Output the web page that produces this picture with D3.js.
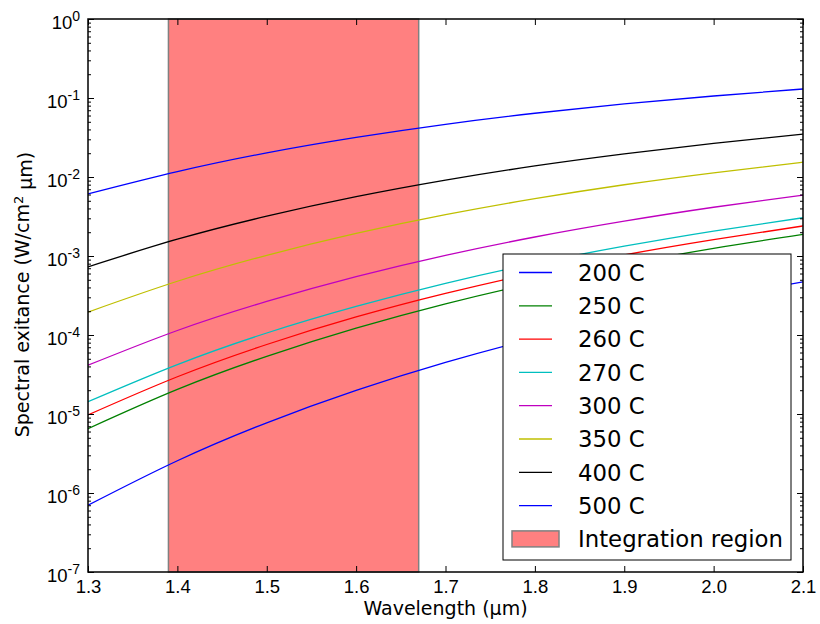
<!DOCTYPE html>
<html>
<head>
<meta charset="utf-8">
<script src="https://cdnjs.cloudflare.com/ajax/libs/d3/7.8.5/d3.min.js"></script>
<style>
body { margin: 0; background: #fff; }
svg { font-family: 'DejaVu Sans', sans-serif; }
.line { fill: none; stroke-width: 1.3; }
.axis path { display: none; }
.axis line { stroke: #000; stroke-width: 1; }
.axis text { font-size: 18.5px; fill: #000; }
</style>
</head>
<body>
<svg id="plotarea"></svg>
<script>
// wavelength samples (um)
const wavelengths = [1.3, 1.4, 1.5, 1.6, 1.7, 1.8, 1.9, 2.0, 2.1];

// spectral exitance (W/cm2 um)
const exit200 = [7.0e-7, 2.56e-6, 7.74e-6, 1.99e-5, 4.50e-5, 9.12e-5, 1.69e-4, 2.92e-4, 4.71e-4];
const exit250 = [6.53e-6, 2.05e-5, 5.37e-5, 1.22e-4, 2.48e-4, 4.58e-4, 7.82e-4, 1.25e-3, 1.88e-3];
const exit260 = [9.73e-6, 2.96e-5, 7.58e-5, 1.69e-4, 3.36e-4, 6.11e-4, 1.03e-3, 1.61e-3, 2.40e-3];
const exit270 = [1.43e-5, 4.22e-5, 1.06e-4, 2.30e-4, 4.51e-4, 8.05e-4, 1.33e-3, 2.07e-3, 3.05e-3];
const exit300 = [4.14e-5, 1.14e-4, 2.66e-4, 5.48e-4, 1.02e-3, 1.74e-3, 2.76e-3, 4.14e-3, 5.90e-3];
const exit350 = [1.95e-4, 4.79e-4, 1.02e-3, 1.93e-3, 3.33e-3, 5.32e-3, 7.98e-3, 1.13e-2, 1.54e-2];
const exit400 = [7.29e-4, 1.63e-3, 3.19e-3, 5.63e-3, 9.12e-3, 1.38e-2, 1.96e-2, 2.67e-2, 3.48e-2];
const exit500 = [6.11e-3, 1.17e-2, 2.02e-2, 3.17e-2, 4.65e-2, 6.41e-2, 8.42e-2, 0.106, 0.130];

const labels = ['200 C', '250 C', '260 C', '270 C', '300 C', '350 C', '400 C', '500 C'];
const colors = ['#0000ff', '#008000', '#ff0000', '#00bfbf', '#bf00bf', '#bfbf00', '#000000', '#0000ff'];
const series = [exit200, exit250, exit260, exit270, exit300, exit350, exit400, exit500];

const integration = [1.39, 1.67];
const xTicks = [1.3, 1.4, 1.5, 1.6, 1.7, 1.8, 1.9, 2.0, 2.1];
const yExponents = [-7, -6, -5, -4, -3, -2, -1, 0];

const margin = {
    top: 19,
    bottom: 52,
    left: 88,
    right: 17,
}

const dims = {
    width: 820 - margin.left - margin.right,
    height: 624 - margin.top - margin.bottom,
}

function plotExitance() {
    var svg = d3.select('#plotarea')
                .attr('width', 820)
                .attr('height', 624)
                .append('g')
                .attr('transform', `translate(${margin.left}, ${margin.top})`);

    var x = d3.scaleLinear().domain([1.3, 2.1]).range([0, dims.width]);
    var y = d3.scaleLog().domain([1e-7, 1]).range([dims.height, 0]);

    svg.append('clipPath')
       .attr('id', 'clip')
       .append('rect')
       .attr('width', dims.width)
       .attr('height', dims.height);

    // integration region
    svg.append('rect')
       .attr('x', x(integration[0]))
       .attr('y', 0)
       .attr('width', x(integration[1]) - x(integration[0]))
       .attr('height', dims.height)
       .style('fill', '#ff8080')
       .style('stroke', '#808080')
       .style('stroke-width', 1.5);

    var valueline = d3.line()
                      .curve(d3.curveNatural)
                      .x(function(d, i) { return x(wavelengths[i]); })
                      .y(function(d) { return y(d); });

    svg.append('g')
       .attr('clip-path', 'url(#clip)')
       .selectAll('path')
       .data(series)
       .enter().append('path')
       .attr('class', 'line')
       .style('stroke', (d, i) => colors[i])
       .attr('d', valueline);

    // log ticks
    var majors = yExponents.map(e => Math.pow(10, e));
    var minors = [];
    yExponents.slice(0, -1).forEach(function(e) {
        for (var m = 2; m < 10; m++) minors.push(m * Math.pow(10, e));
    });

    // bottom axis
    svg.append('g')
       .attr('class', 'axis x-axis')
       .attr('transform', 'translate(0,' + dims.height + ')')
       .call(d3.axisBottom(x).tickValues(xTicks).tickFormat(d3.format('.1f'))
             .tickSizeInner(-6).tickSizeOuter(0).tickPadding(8));

    svg.append('g')
       .attr('class', 'axis')
       .call(d3.axisTop(x).tickValues(xTicks).tickFormat('')
             .tickSizeInner(-6).tickSizeOuter(0));

    // left axis
    var yAxis = svg.append('g')
       .attr('class', 'axis y-axis')
       .call(d3.axisLeft(y).tickValues(majors).tickFormat('')
             .tickSizeInner(-6).tickSizeOuter(0).tickPadding(8));

    svg.append('g')
       .attr('class', 'axis')
       .call(d3.axisLeft(y).tickValues(minors).tickFormat('')
             .tickSizeInner(-3).tickSizeOuter(0));

    svg.append('g')
       .attr('class', 'axis')
       .attr('transform', `translate(${dims.width},0)`)
       .call(d3.axisRight(y).tickValues(majors).tickFormat('')
             .tickSizeInner(-6).tickSizeOuter(0));

    svg.append('g')
       .attr('class', 'axis')
       .attr('transform', `translate(${dims.width},0)`)
       .call(d3.axisRight(y).tickValues(minors).tickFormat('')
             .tickSizeInner(-3).tickSizeOuter(0));

    // 10^n labels
    yAxis.selectAll('g.tick text')
         .attr('dy', '0.5em')
         .each(function(d) {
             var t = d3.select(this);
             t.text(null);
             t.append('tspan').text('10');
             t.append('tspan')
              .attr('dy', '-0.55em')
              .style('font-size', '14px')
              .text(String(Math.round(Math.log10(d))));
         });

    // frame
    svg.append('rect')
       .attr('width', dims.width)
       .attr('height', dims.height)
       .style('fill', 'none')
       .style('stroke', '#000')
       .style('stroke-width', 1.5);

    // text label for the x axis
    svg.append('text')
       .attr('transform',
             `translate(${dims.width/2}, ${dims.height + 43})`)
       .style('text-anchor', 'middle')
       .style('font-size', '19px')
       .text('Wavelength (\u00b5m)');

    // text label for the y axis
    var yl = svg.append('text')
       .attr('transform', `translate(${-margin.left + 29}, ${dims.height/2 - 1}) rotate(-90)`)
       .style('text-anchor', 'middle')
       .style('font-size', '19px');
    yl.append('tspan').text('Spectral exitance (W/cm');
    yl.append('tspan').attr('dy', '-0.45em').style('font-size', '13px').text('2');
    yl.append('tspan').attr('dy', '0.45em').text(' \u00b5m)');

    // legend
    var legend = svg.append('g')
       .attr('transform', `translate(${503 - margin.left}, ${254 - margin.top})`);

    legend.append('rect')
          .attr('width', 288)
          .attr('height', 306)
          .style('fill', '#fff')
          .style('stroke', '#000')
          .style('stroke-width', 1);

    var rows = legend.selectAll('g.row')
          .data(labels)
          .enter().append('g')
          .attr('class', 'row')
          .attr('transform', (d, i) => `translate(0, ${18.5 + i * 33.3})`);

    rows.append('line')
        .attr('x1', 16)
        .attr('x2', 49)
        .style('stroke', (d, i) => colors[i])
        .style('stroke-width', 1.3);

    rows.append('text')
        .attr('x', 75)
        .attr('dy', '0.36em')
        .style('font-size', '22.8px')
        .text(d => d);

    var last = legend.append('g')
          .attr('transform', `translate(0, ${18.5 + labels.length * 33.3})`);
    last.append('rect')
        .attr('x', 9)
        .attr('y', -8)
        .attr('width', 47)
        .attr('height', 16)
        .style('fill', '#ff8080')
        .style('stroke', '#808080')
        .style('stroke-width', 1.5);
    last.append('text')
        .attr('x', 75)
        .attr('dy', '0.36em')
        .style('font-size', '22.8px')
        .text('Integration region');
}

plotExitance();
</script>
</body>
</html>
